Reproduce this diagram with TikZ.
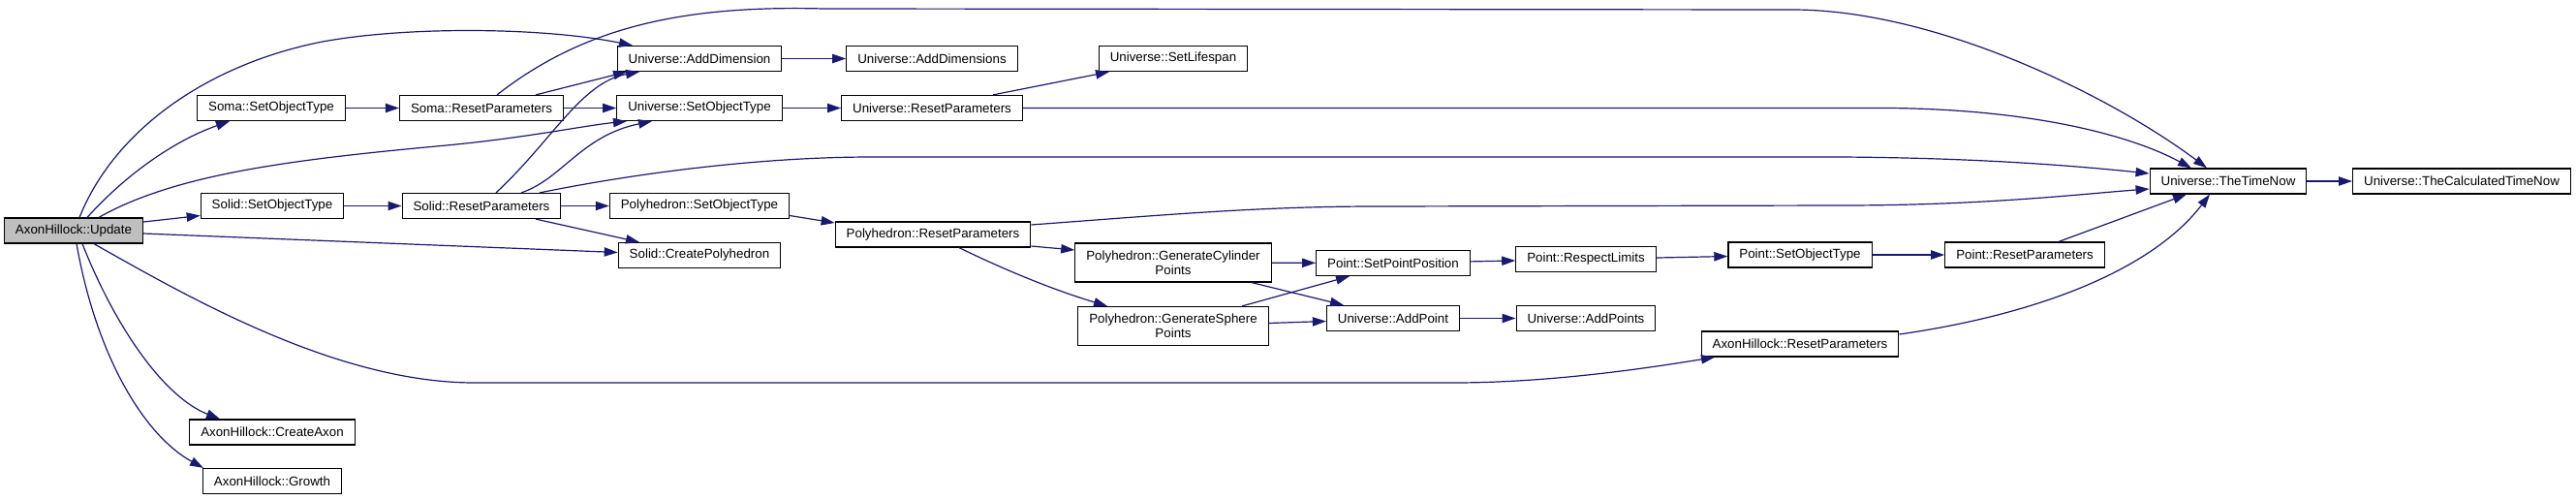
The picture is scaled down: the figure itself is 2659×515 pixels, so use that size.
\documentclass[tikz,border=0pt]{standalone}
\usepackage{fontspec}
\setmainfont{Liberation Sans}
\usepackage{xcolor}
\usetikzlibrary{calc}
\usetikzlibrary{arrows.meta}
\definecolor{edgeblue}{HTML}{191970}
\definecolor{rootgray}{HTML}{BFBFBF}

\begin{document}
\begin{tikzpicture}[x=0.75pt,y=-0.75pt,
		fn/.style={draw=black,line width=0.9pt,fill=white,font=\fontsize{10}{11}\selectfont,inner xsep=8.6pt,inner ysep=0pt,minimum height=19.5pt,align=center},
		fntwo/.style={fn,minimum height=30pt},
		call/.style={draw=edgeblue,line width=0.9pt,-{Triangle[length=10.5pt,width=7pt]}}]
		\useasboundingbox (0,0) rectangle (2659,515);
		\node[fn,fill=rootgray] (upd) at (76,238) {AxonHillock::Update};
		\node[fn] (somaSet) at (280,111.5) {Soma::SetObjectType};
		\node[fn] (somaReset) at (497,111.5) {Soma::ResetParameters};
		\node[fn] (solidSet) at (281,212.5) {Solid::SetObjectType};
		\node[fn] (solidReset) at (497,212.5) {Solid::ResetParameters};
		\node[fn] (createAxon) at (281,446) {AxonHillock::CreateAxon};
		\node[fn] (growth) at (281,496.5) {AxonHillock::Growth};
		\node[fn] (addDim) at (722,60.5) {Universe::AddDimension};
		\node[fn] (uniSet) at (722,111.5) {Universe::SetObjectType};
		\node[fn] (polySet) at (722,212.5) {Polyhedron::SetObjectType};
		\node[fn] (createPoly) at (722,263.5) {Solid::CreatePolyhedron};
		\node[fn] (addDims) at (962,60.5) {Universe::AddDimensions};
		\node[fn] (uniReset) at (962,111.5) {Universe::ResetParameters};
		\node[fn] (lifespan) at (1211,60.5) {Universe::SetLifespan};
		\node[fn] (polyReset) at (963,242) {Polyhedron::ResetParameters};
		\node[fntwo] (genCyl) at (1211,271) {Polyhedron::GenerateCylinder\\Points};
		\node[fntwo] (genSph) at (1211,336.5) {Polyhedron::GenerateSphere\\Points};
		\node[fn] (setPos) at (1438,271.5) {Point::SetPointPosition};
		\node[fn] (addPoint) at (1438,328.5) {Universe::AddPoint};
		\node[fn] (respect) at (1637,267.5) {Point::RespectLimits};
		\node[fn] (addPoints) at (1637,328.5) {Universe::AddPoints};
		\node[fn] (pointSet) at (1858,263) {Point::SetObjectType};
		\node[fn] (pointReset) at (2090,263) {Point::ResetParameters};
		\node[fn] (axonReset) at (1858,355) {AxonHillock::ResetParameters};
		\node[fn] (timeNow) at (2300,187) {Universe::TheTimeNow};
		\node[fn] (calcTime) at (2541,187) {Universe::TheCalculatedTimeNow};

		\draw[call] ($(upd.north)+(6,0)$) .. controls (120,130) and (220,65) .. (333,43) .. controls (420,27) and (560,28) .. ($(addDim.north)+(-69,0)$);
		\draw[call] ($(upd.north)+(14,0)$) .. controls (130,180) and (180,145) .. ($(somaSet.south)+(-43,0)$);
		\draw[call] ($(upd.north)+(26,0)$) .. controls (180,180) and (300,165) .. (450,151) .. controls (540,143) and (600,130) .. ($(uniSet.south)+(-75,0)$);
		\draw[call] ($(upd.east)+(0,-9)$) -- ($(solidSet.west)+(0,10)$);
		\draw[call] ($(upd.east)+(0,3)$) -- ($(createPoly.west)+(0,-3)$);
		\draw[call] ($(upd.south)+(21,0)$) .. controls (200,310) and (350,395) .. (490,395) -- (1500,395) .. controls (1600,395) and (1700,380) .. ($(axonReset.south)+(-88,0)$);
		\draw[call] ($(upd.south)+(9,0)$) .. controls (120,340) and (170,410) .. ($(createAxon.north)+(-54,0)$);
		\draw[call] ($(upd.south)+(3,0)$) .. controls (100,370) and (150,450) .. ($(growth.north)+(-71,0)$);

		\draw[call] (somaSet) -- (somaReset);
		\draw[call] ($(somaReset.north)+(16,0)$) .. controls (600,30) and (700,5) .. (850,9) -- (1850,10) .. controls (2000,10) and (2180,100) .. ($(timeNow.north)+(-22,0)$);
		\draw[call] ($(somaReset.north)+(56,0)$) -- ($(addDim.south)+(-75,0)$);
		\draw[call] (somaReset) -- (uniSet);

		\draw[call] (solidSet) -- (solidReset);
		\draw[call] ($(solidReset.north)+(15,0)$) .. controls (570,145) and (600,85) .. ($(addDim.south)+(-62,0)$);
		\draw[call] ($(solidReset.north)+(41,0)$) .. controls (580,185) and (600,140) .. ($(uniSet.south)+(-49,0)$);
		\draw[call] ($(solidReset.north)+(60,0)$) .. controls (650,180) and (780,162) .. (900,162) -- (1900,162) .. controls (2050,163) and (2150,172) .. ($(timeNow.west)+(0,-8)$);
		\draw[call] (solidReset) -- (polySet);
		\draw[call] ($(solidReset.south)+(56,0)$) -- ($(createPoly.north)+(-62,0)$);

		\draw[call] (addDim) -- (addDims);
		\draw[call] (uniSet) -- (uniReset);
		\draw[call] ($(uniReset.north)+(63,0)$) -- ($(lifespan.south)+(-66,0)$);
		\draw[call] (uniReset.east) -- (1950,111.5) .. controls (2100,113) and (2200,140) .. ($(timeNow.north)+(-38,0)$);

		\draw[call] ($(polySet.east)+(0,10)$) -- ($(polyReset.west)+(0,-12)$);
		\draw[call] ($(polyReset.east)+(0,-10)$) .. controls (1200,222) and (1300,213) .. (1420,213) -- (1900,212) .. controls (2050,212) and (2150,200) .. ($(timeNow.west)+(0,8)$);
		\draw[call] ($(polyReset.east)+(0,12)$) -- ($(genCyl.west)+(0,-13)$);
		\draw[call] ($(polyReset.south)+(27,0)$) .. controls (1040,280) and (1090,300) .. ($(genSph.north)+(-68,0)$);

		\draw[call] (genCyl) -- (setPos);
		\draw[call] ($(genCyl.south)+(81,0)$) -- ($(addPoint.north)+(-51,0)$);
		\draw[call] ($(genSph.north)+(71,0)$) -- ($(setPos.south)+(-45,0)$);
		\draw[call] ($(genSph.east)+(0,-3)$) -- ($(addPoint.west)+(0,3)$);
		\draw[call] (setPos) -- (respect);
		\draw[call] (addPoint) -- (addPoints);
		\draw[call] (respect) -- (pointSet);
		\draw[call] (pointSet) -- (pointReset);
		\draw[call] ($(pointReset.north)+(35,0)$) -- ($(timeNow.south)+(-43,0)$);
		\draw[call] ($(axonReset.east)+(0,-10)$) .. controls (2100,325) and (2220,280) .. ($(timeNow.south)+(-19,0)$);
		\draw[call] (timeNow) -- (calcTime);
\end{tikzpicture}
\end{document}
